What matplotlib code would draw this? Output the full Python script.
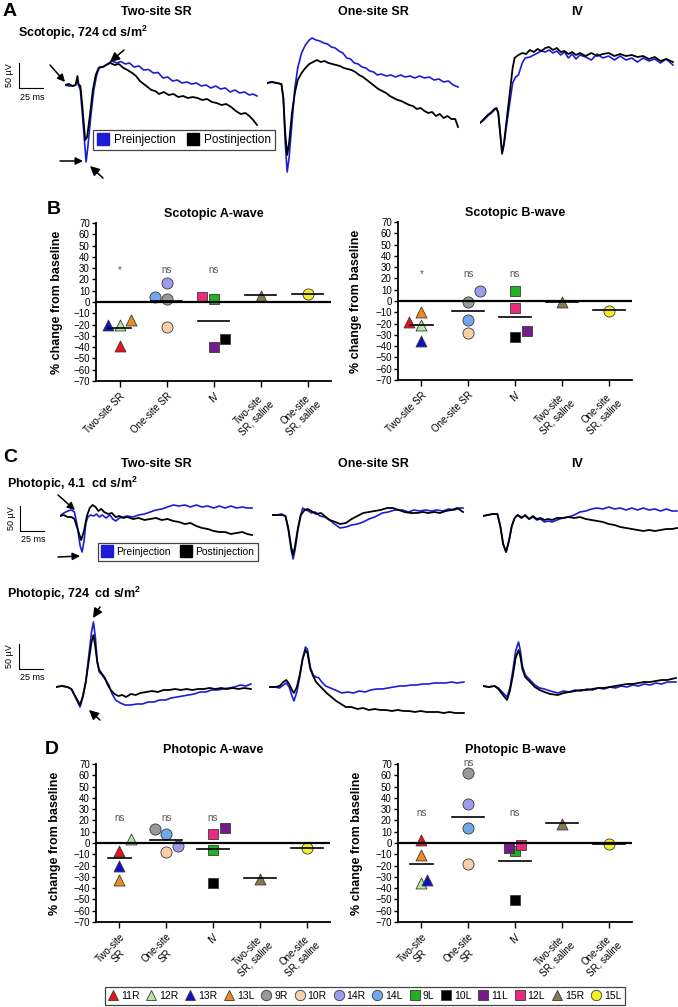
import matplotlib
matplotlib.use('Agg')
import matplotlib.pyplot as plt
from matplotlib.lines import Line2D

plt.rcParams['font.family'] = ['Liberation Sans', 'DejaVu Sans']

W, H = 678, 1007
fig = plt.figure(figsize=(W / 100, H / 100), dpi=100)

# ------------------------------------------------------------------ data
groups_b = ["Two-site SR", "One-site SR", "IV", "Two-site\nSR, saline", "One-site\nSR, saline"]
groups_d = ["Two-site\nSR", "One-site\nSR", "IV", "Two-site\nSR, saline", "One-site\nSR, saline"]

eyes = ['11R', '12R', '13R', '13L', '9R', '10R', '14R', '14L', '9L', '10L', '11L', '12L', '15R', '15L']
eye_group = [0, 0, 0, 0, 1, 1, 1, 1, 2, 2, 2, 2, 3, 4]
eye_marker = ['^', '^', '^', '^', 'o', 'o', 'o', 'o', 's', 's', 's', 's', '^', 'o']
eye_color = ['#e8121a', '#aee8a4', '#1010c8', '#f08a1e', '#999999', '#f8cfa8', '#9c9cec',
             '#70a8ea', '#20b020', '#000000', '#761a8e', '#ea2a7c', '#857a4c', '#f4ee22']

# values (% change from baseline) per eye, same order as `eyes`
scot_a = [-39, -20, -20, -16, 3, -22, 17, 4, 3, -33, -40, 4, 5, 7]
scot_b = [-19, -21, -35, -10, -1, -28, 9, -17, 9, -32, -27, -6, -1, -9]
phot_a = [-7, 3.5, -20, -33, 12, -8, -3, 8, -6, -35, 13, 8, -32, -4.5]
phot_b = [3, -35, -33, -11, 62, -18.5, 35, 13, -7, -50.5, -4.5, -2, 17, -0.5]

scot_a_mean = [-23, 1, -17, 6, 7]
scot_b_mean = [-21, -9, -14, -1, -8]
phot_a_mean = [-13.5, 2.5, -5, -31, -4.5]
phot_b_mean = [-18.5, 23, -16, 18, -1]

scot_a_sig = ['*', 'ns', 'ns', '', '']
scot_b_sig = ['*', 'ns', 'ns', '', '']
phot_a_sig = ['ns', 'ns', 'ns', '', '']
phot_b_sig = ['ns', 'ns', 'ns', '', '']
scot_a_sig_y = [28, 28, 28, 0, 0]
scot_b_sig_y = [24, 24, 24, 0, 0]
phot_a_sig_y = [22, 22, 22, 0, 0]
phot_b_sig_y = [27, 71, 27, 0, 0]

# horizontal jitter (category units) of overlapping points
scot_a_jit = [0, 0, -0.25, 0.25, 0, 0, 0, -0.25, 0, 0.25, 0, -0.25, 0, 0]
scot_b_jit = [-0.27, 0, 0, 0, 0, 0, 0.25, 0, 0, 0, 0.25, 0, 0, 0]
phot_a_jit = [0, 0.25, 0, 0, -0.25, 0, 0.25, 0, 0, 0, 0.25, 0, 0, 0]
phot_b_jit = [0, 0, 0.12, 0, 0, 0, 0, 0, 0, 0, -0.13, 0.13, 0, 0]

yticks = list(range(-70, 71, 10))

# ERG traces: (time ms, amplitude uV) pairs
A_two_pre = [(0, 0), (4, -2), (8, -2), (11, 0), (13, 10), (14, 0), (16, -10), (19, -80), (22, -154), (24, -120),
             (27, -60), (30, -10), (33, 20), (36, 36), (40, 36), (44, 42), (49, 48), (54, 44), (58, 47), (63, 42),
             (67, 44), (72, 36), (77, 38), (82, 30), (87, 31), (92, 24), (97, 25), (102, 14), (107, 16), (112, 8),
             (117, 10), (122, 4), (127, 6), (132, 2), (137, 4), (142, -2), (147, 0), (152, -6), (157, -2), (162, -8),
             (167, -6), (172, -14), (177, -10), (182, -16), (187, -14), (192, -20), (196, -18), (200, -22)]
A_two_post = [(0, 0), (4, 2), (8, -2), (11, 0), (13, 18), (14, 2), (16, -2), (18, -40), (21, -110), (23, -104),
              (26, -60), (29, -10), (32, 20), (35, 34), (39, 36), (43, 40), (47, 44), (52, 40), (56, 42), (61, 34),
              (65, 30), (70, 24), (74, 18), (78, 8), (82, 2), (86, -4), (90, -10), (94, -12), (98, -18), (103, -14),
              (108, -20), (113, -18), (118, -24), (123, -22), (128, -26), (133, -24), (138, -26), (143, -30),
              (148, -28), (153, -34), (158, -36), (163, -40), (168, -38), (173, -44), (178, -52), (183, -58),
              (188, -56), (192, -62), (196, -70), (200, -80)]
A_one_pre = [(0, 0), (5, 2), (10, 0), (15, -2), (17, -30), (19, -120), (21, -178), (23, -150), (26, -80), (29, -10),
             (32, 30), (36, 60), (40, 76), (44, 86), (47, 90), (51, 86), (55, 84), (59, 80), (63, 78), (67, 72),
             (71, 70), (75, 64), (79, 60), (83, 50), (87, 48), (91, 40), (95, 38), (99, 32), (103, 30), (107, 24),
             (111, 22), (115, 16), (119, 18), (124, 14), (129, 16), (134, 12), (139, 16), (144, 12), (149, 14),
             (154, 10), (159, 14), (164, 10), (169, 12), (174, 6), (179, 8), (184, 2), (189, 4), (194, -4), (199, -8)]
A_one_post = [(0, 0), (5, 2), (10, 0), (15, -2), (17, -30), (19, -100), (21, -144), (23, -120), (26, -60), (29, -20),
              (32, 6), (36, 20), (40, 30), (44, 38), (48, 42), (52, 46), (56, 42), (60, 44), (64, 40), (68, 38),
              (72, 36), (76, 34), (80, 30), (84, 28), (88, 26), (92, 22), (96, 16), (100, 12), (104, 6), (108, 0),
              (112, -6), (116, -12), (120, -16), (124, -20), (128, -26), (132, -30), (136, -34), (140, -36),
              (144, -40), (148, -44), (152, -46), (156, -52), (160, -50), (164, -56), (168, -60), (172, -58),
              (176, -66), (180, -62), (184, -70), (188, -66), (192, -72), (196, -72), (199, -88)]
A_iv_pre = [(0, 0), (4, 6), (8, 14), (12, 20), (15, 26), (17, 30), (19, 22), (21, -20), (23, -62), (25, -44), (28, 0),
            (31, 40), (34, 80), (37, 92), (40, 96), (44, 120), (47, 130), (52, 132), (56, 136), (60, 140), (64, 144),
            (68, 142), (72, 146), (76, 140), (80, 144), (84, 136), (88, 142), (92, 130), (96, 138), (100, 128),
            (104, 136), (110, 132), (116, 126), (122, 138), (128, 130), (134, 134), (140, 126), (146, 134),
            (152, 126), (158, 130), (164, 122), (170, 130), (176, 124), (182, 128), (188, 120), (194, 128), (201, 116)]
A_iv_post = [(0, 0), (4, 8), (8, 16), (12, 22), (15, 28), (17, 30), (19, 20), (21, -20), (23, -60), (25, -40), (28, 10),
             (31, 60), (34, 110), (36, 130), (40, 136), (44, 140), (48, 138), (52, 146), (56, 142), (60, 148),
             (64, 144), (68, 150), (72, 152), (76, 146), (80, 150), (84, 142), (88, 144), (92, 138), (96, 142),
             (100, 136), (104, 140), (110, 134), (116, 140), (122, 134), (128, 138), (134, 140), (140, 134),
             (146, 138), (152, 134), (158, 136), (164, 132), (170, 134), (176, 128), (182, 132), (188, 124),
             (194, 128), (201, 122)]

C1_two_pre = [(0, 0), (4, 6), (8, 10), (12, 12), (15, 8), (18, -20), (21, -60), (23, -72), (25, -50), (27, -14),
              (29, -2), (32, 2), (35, 0), (38, 4), (41, -2), (44, 2), (48, -4), (52, 2), (55, -6), (58, -10),
              (62, -4), (66, -2), (70, 0), (76, -2), (82, 2), (88, 4), (94, 8), (100, 12), (106, 14), (112, 18),
              (118, 22), (124, 20), (130, 22), (136, 18), (142, 22), (148, 18), (154, 20), (160, 16), (166, 20),
              (172, 16), (178, 20), (184, 16), (190, 18), (195, 16), (200, 16)]
C1_two_post = [(0, 0), (4, 2), (8, -2), (12, -2), (15, -6), (18, -24), (22, -48), (25, -30), (28, 0), (31, 16),
               (34, 22), (37, 18), (40, 10), (43, 14), (46, 8), (50, 4), (54, 6), (58, -2), (62, 0), (66, -4),
               (70, -2), (76, -6), (82, -4), (88, -8), (94, -6), (100, -4), (106, -8), (112, -6), (118, -10),
               (124, -12), (130, -16), (136, -14), (142, -20), (148, -24), (154, -26), (160, -30), (166, -32),
               (172, -32), (178, -36), (184, -34), (190, -32), (195, -36), (200, -38)]
C1_one_pre = [(0, 0), (5, 0), (10, 2), (14, -2), (17, -30), (20, -70), (22, -88), (24, -70), (27, -30), (30, 0),
              (32, 14), (35, 10), (38, 8), (41, 4), (45, 6), (50, -2), (55, -4), (60, -10), (65, -18), (71, -26),
              (77, -24), (83, -20), (89, -18), (95, -14), (101, -8), (107, -4), (115, 4), (121, 6), (128, 10),
              (136, 10), (142, 6), (148, 10), (154, 8), (160, 10), (166, 8), (172, 10), (178, 8), (184, 12),
              (190, 10), (195, 14), (199, 14)]
C1_one_post = [(0, 0), (5, 0), (10, 0), (14, -2), (17, -26), (20, -64), (22, -80), (24, -62), (27, -26), (30, 0),
               (34, 10), (37, 12), (41, 8), (46, 2), (51, 4), (56, -4), (60, -10), (66, -14), (71, -18), (77, -16),
               (83, -8), (89, -2), (95, 4), (101, 6), (107, 8), (113, 10), (120, 14), (126, 14), (132, 10),
               (138, 6), (145, 4), (151, 4), (157, 6), (163, 4), (169, 6), (175, 4), (181, 8), (187, 10),
               (193, 14), (199, 6)]
C1_iv_pre = [(0, 0), (5, 2), (10, 4), (15, 4), (18, -20), (21, -56), (24, -72), (27, -50), (30, -20), (33, -4),
             (36, 2), (40, -2), (44, 0), (48, -6), (52, -2), (56, -8), (60, -6), (64, -12), (68, -10), (72, -12),
             (77, -8), (83, -4), (89, -2), (95, 2), (101, 8), (107, 10), (113, 14), (119, 16), (125, 14), (131, 18),
             (137, 14), (143, 16), (149, 12), (155, 16), (161, 12), (167, 16), (173, 12), (179, 14), (185, 10),
             (191, 14), (197, 10), (202, 10)]
C1_iv_post = [(0, 0), (5, 2), (10, 4), (15, 4), (18, -20), (21, -56), (24, -72), (27, -50), (30, -20), (33, -4),
              (36, 2), (40, -4), (44, 2), (48, -6), (52, 0), (56, -6), (60, -4), (64, -8), (68, -6), (72, -8),
              (77, -4), (83, -4), (89, -2), (95, -4), (101, -2), (107, -6), (113, -8), (119, -10), (125, -12),
              (131, -16), (137, -18), (143, -22), (149, -24), (155, -26), (161, -28), (167, -30), (173, -28),
              (179, -30), (185, -28), (191, -26), (197, -26), (202, -24)]

C2_two_pre = [(0, 0), (6, 2), (12, 0), (16, -4), (20, -20), (25, -40), (28, -20), (31, 10), (34, 60), (37, 110),
              (39, 130), (41, 100), (43, 50), (45, 30), (48, 24), (51, 16), (55, 4), (58, -12), (62, -26), (67, -32),
              (72, -36), (78, -36), (84, -34), (90, -34), (96, -30), (102, -30), (108, -26), (114, -26), (120, -22),
              (126, -20), (132, -18), (138, -16), (144, -14), (150, -10), (156, -10), (162, -6), (168, -6),
              (174, -4), (180, -2), (186, 0), (192, 4), (198, 2), (203, 6)]
C2_two_post = [(0, 0), (6, 2), (12, 0), (16, -4), (20, -18), (25, -36), (28, -18), (31, 10), (34, 50), (37, 90),
               (39, 104), (41, 80), (43, 50), (45, 34), (48, 26), (51, 18), (54, 4), (57, -6), (61, -14), (65, -18),
               (69, -16), (73, -20), (78, -14), (83, -16), (88, -12), (94, -10), (100, -8), (106, -10), (112, -6),
               (118, -6), (124, -4), (130, -6), (136, -4), (142, -6), (148, -4), (154, -4), (160, -2), (166, -4),
               (172, -2), (178, -4), (184, -2), (190, -4), (196, -2), (203, -4)]
C2_one_pre = [(0, 0), (6, 0), (11, -2), (15, 4), (18, 8), (21, 0), (24, -18), (26, -28), (29, -10), (32, 20),
              (35, 56), (38, 80), (40, 76), (43, 40), (46, 24), (49, 20), (52, 18), (55, 10), (59, 2), (64, -2),
              (69, -6), (76, -12), (82, -10), (88, -12), (94, -8), (100, -10), (106, -6), (112, -4), (118, -4),
              (124, -2), (130, 0), (136, 2), (142, 2), (148, 4), (154, 4), (160, 6), (166, 6), (172, 8), (178, 8),
              (184, 8), (190, 10), (196, 8), (203, 10)]
C2_one_post = [(0, 0), (6, 0), (11, 2), (15, 10), (18, 14), (21, 6), (24, -6), (26, -12), (29, 0), (32, 24),
               (35, 56), (38, 74), (40, 68), (43, 36), (46, 22), (49, 10), (52, 4), (55, -2), (60, -12), (65, -20),
               (70, -28), (75, -34), (80, -40), (86, -40), (92, -44), (98, -42), (104, -46), (110, -44), (116, -46),
               (122, -46), (128, -48), (134, -46), (140, -48), (146, -48), (152, -50), (158, -48), (164, -50),
               (170, -50), (176, -50), (182, -52), (188, -50), (194, -52), (203, -52)]
C2_iv_pre = [(0, 0), (6, -2), (12, 0), (16, -4), (20, -12), (25, -22), (28, -4), (31, 30), (34, 70), (37, 88),
             (39, 70), (41, 40), (44, 22), (47, 16), (50, 10), (54, 2), (59, -4), (64, -6), (70, -10), (78, -14),
             (84, -10), (90, -12), (96, -8), (102, -10), (108, -6), (114, -8), (120, -4), (126, -6), (132, -2),
             (138, -4), (144, 0), (150, -2), (156, 2), (162, 0), (168, 4), (174, 2), (180, 6), (186, 4), (192, 8),
             (201, 8)]
C2_iv_post = [(0, 0), (6, -2), (12, 0), (16, -6), (20, -16), (25, -28), (28, -10), (31, 20), (34, 56), (37, 72),
              (39, 58), (41, 34), (44, 18), (47, 12), (50, 6), (54, -2), (59, -8), (64, -12), (70, -16), (78, -18),
              (84, -14), (90, -12), (96, -10), (102, -8), (108, -8), (114, -6), (120, -4), (126, -4), (132, -2),
              (138, 0), (144, 2), (150, 4), (156, 4), (162, 6), (168, 8), (174, 8), (180, 10), (186, 12), (192, 12),
              (201, 16)]

scale_ms, scale_uv = 25, 50

# ------------------------------------------------------------------ style / helpers
BLUE = '#1c1cd6'
PX_PER_MS = 0.96
PX_PER_UV = 0.5


def px_ax(x, y, w, h, **kw):
    return fig.add_axes([x / W, 1 - (y + h) / H, w / W, h / H], **kw)


def ftext(x, y, s, **kw):
    return fig.text(x / W, 1 - y / H, s, **kw)


def trace_ax(x0, base, pre, post):
    span_w, span_h = 215, 115
    ax = px_ax(x0, base - span_h, span_w, 2 * span_h)
    ax.patch.set_alpha(0)
    ax.set_xlim(0, span_w / PX_PER_MS)
    ax.set_ylim(-span_h / PX_PER_UV, span_h / PX_PER_UV)
    ax.axis('off')
    ax.plot([p[0] for p in pre], [p[1] for p in pre], color=BLUE, lw=1.2, zorder=2)
    ax.plot([p[0] for p in post], [p[1] for p in post], color='black', lw=1.3, zorder=3)
    return ax


def scale_bar(x, y):
    h = scale_uv * PX_PER_UV
    w = scale_ms * PX_PER_MS
    ov.plot([x, x, x + w], [y - h, y, y], color='black', lw=0.8)
    ov.text(x - 9, y - h / 2, '50 µV', rotation=90, ha='center', va='center', fontsize=6.5)
    ov.text(x + w / 2 + 1, y + 9, '25 ms', ha='center', va='center', fontsize=6.5)


def scatter_ax(x, y, w, h, vals, jit, means, sig, sig_y, labels, title, ylabel_x, title_pad):
    ax = px_ax(x, y, w, h)
    ax.set_xlim(-0.5, 4.5)
    ax.set_ylim(-70, 70)
    for sp in ['top', 'right']:
        ax.spines[sp].set_visible(False)
    for sp in ['left', 'bottom']:
        ax.spines[sp].set_linewidth(1.3)
    ax.axhline(0, color='black', lw=1.6, zorder=4)
    for i, e in enumerate(eyes):
        size = 62 if eye_marker[i] == '^' else 64
        if eye_marker[i] == 's':
            size = 58
        ax.scatter(eye_group[i] + jit[i], vals[i], marker=eye_marker[i], s=size, c=eye_color[i],
                   edgecolors='#3a3a3a', linewidths=0.6, zorder=3, clip_on=False)
    for g, m in enumerate(means):
        hw = 0.25 if g == 0 else 0.34
        ax.plot([g - hw, g + hw], [m, m], color='black', lw=1.2, zorder=5)
    for g, s in enumerate(sig):
        if s:
            ax.text(g, sig_y[g], s, ha='center', va='center', fontsize=7, color='#555555', clip_on=False)
    ax.set_yticks(yticks)
    ax.set_yticklabels([str(t).replace('-', '\u2212') for t in yticks], fontsize=7)
    ax.set_xticks(range(5))
    ax.set_xticklabels(labels, rotation=45, ha='right', rotation_mode='anchor', fontsize=7,
                       multialignment='center')
    ax.tick_params(axis='y', length=3, width=1, pad=1.5)
    ax.tick_params(axis='x', length=4, width=1, pad=3)
    ax.set_title(title, fontsize=9, fontweight='bold', pad=title_pad)
    ftext(ylabel_x, y + h / 2, '% change from baseline', rotation=90, ha='center', va='center',
          fontsize=9, fontweight='bold')
    return ax


ov = fig.add_axes([0, 0, 1, 1], zorder=10)
ov.set_xlim(0, W)
ov.set_ylim(H, 0)
ov.axis('off')
ov.patch.set_alpha(0)

# ------------------------------------------------------------------ panel A
ftext(3, 11, 'A', fontsize=14, fontweight='bold', va='center')
ftext(156, 12, 'Two-site SR', fontsize=9, fontweight='bold', ha='center', va='center')
ftext(373, 12, 'One-site SR', fontsize=9, fontweight='bold', ha='center', va='center')
ftext(577, 12, 'IV', fontsize=9, fontweight='bold', ha='center', va='center')
ftext(18, 33, 'Scotopic, 724 cd s/m$^\\mathregular{2}$', fontsize=9, fontweight='bold', va='center')

trace_ax(65, 85, A_two_pre, A_two_post)
trace_ax(267, 83, A_one_pre, A_one_post)
trace_ax(480, 123, A_iv_pre, A_iv_post)
scale_bar(19, 88)

arrow_kw = dict(arrowstyle='-|>', color='black', lw=1.1, mutation_scale=11, shrinkA=0, shrinkB=0)
ov.annotate('', xy=(65, 82), xytext=(50, 65), arrowprops=arrow_kw)
ov.annotate('', xy=(110, 62), xytext=(124, 50), arrowprops=dict(arrow_kw, mutation_scale=14))
ov.annotate('', xy=(83, 161), xytext=(60, 161), arrowprops=arrow_kw)
ov.annotate('', xy=(90, 166), xytext=(103, 178), arrowprops=dict(arrow_kw, mutation_scale=14))

h_pre = Line2D([], [], ls='none', marker='s', markersize=8, markerfacecolor=BLUE, markeredgecolor=BLUE)
h_post = Line2D([], [], ls='none', marker='s', markersize=8, markerfacecolor='black', markeredgecolor='black')
legA = fig.legend([h_pre, h_post], ['Preinjection', 'Postinjection'], loc='center',
                  bbox_to_anchor=(184 / W, 1 - 140 / H), ncol=2, fontsize=8.5, frameon=True, fancybox=False,
                  edgecolor='#444444', handlelength=1.0, handletextpad=0.4, columnspacing=1.0,
                  borderpad=0.35, framealpha=1)
legA.get_frame().set_linewidth(0.9)

# ------------------------------------------------------------------ panel B
ftext(47, 209, 'B', fontsize=14, fontweight='bold', va='center')
scatter_ax(96, 223, 235, 158, scot_a, scot_a_jit, scot_a_mean, scot_a_sig, scot_a_sig_y, groups_b,
           'Scotopic A-wave', 57, 4)
scatter_ax(398, 222, 234, 158, scot_b, scot_b_jit, scot_b_mean, scot_b_sig, scot_b_sig_y, groups_b,
           'Scotopic B-wave', 356, 4)

# ------------------------------------------------------------------ panel C
ftext(3, 458, 'C', fontsize=14, fontweight='bold', va='center')
ftext(156, 464, 'Two-site SR', fontsize=9, fontweight='bold', ha='center', va='center')
ftext(373, 464, 'One-site SR', fontsize=9, fontweight='bold', ha='center', va='center')
ftext(577, 464, 'IV', fontsize=9, fontweight='bold', ha='center', va='center')
ftext(7, 484, 'Photopic, 4.1  cd s/m$^\\mathregular{2}$', fontsize=9, fontweight='bold', va='center')

trace_ax(60, 516, C1_two_pre, C1_two_post)
trace_ax(272, 515, C1_one_pre, C1_one_post)
trace_ax(483, 516, C1_iv_pre, C1_iv_post)
scale_bar(20, 531)

ov.annotate('', xy=(75, 510), xytext=(58, 495), arrowprops=arrow_kw)
ov.annotate('', xy=(80, 556), xytext=(58, 557), arrowprops=arrow_kw)

legC = fig.legend([h_pre, h_post], ['Preinjection', 'Postinjection'], loc='center',
                  bbox_to_anchor=(178 / W, 1 - 552 / H), ncol=2, fontsize=7.5, frameon=True, fancybox=False,
                  edgecolor='#444444', handlelength=1.0, handletextpad=0.4, columnspacing=1.0,
                  borderpad=0.35, framealpha=1)
legC.get_frame().set_linewidth(0.9)

ftext(7, 594, 'Photopic, 724  cd s/m$^\\mathregular{2}$', fontsize=9, fontweight='bold', va='center')
trace_ax(56, 687, C2_two_pre, C2_two_post)
trace_ax(269, 687, C2_one_pre, C2_one_post)
trace_ax(483, 686, C2_iv_pre, C2_iv_post)
scale_bar(19, 669)

ov.annotate('', xy=(93, 618), xytext=(100, 607), arrowprops=dict(arrow_kw, mutation_scale=14))
ov.annotate('', xy=(89, 710), xytext=(100, 720), arrowprops=dict(arrow_kw, mutation_scale=14))

# ------------------------------------------------------------------ panel D
ftext(45, 749, 'D', fontsize=14, fontweight='bold', va='center')
scatter_ax(96, 764, 234, 158, phot_a, phot_a_jit, phot_a_mean, phot_a_sig, phot_a_sig_y, groups_d,
           'Photopic A-wave', 55, 8)
scatter_ax(398, 764, 234, 158, phot_b, phot_b_jit, phot_b_mean, phot_b_sig, phot_b_sig_y, groups_d,
           'Photopic B-wave', 357, 8)

# ------------------------------------------------------------------ eye legend
handles = [Line2D([], [], ls='none', marker=eye_marker[i], markersize=7.5, markerfacecolor=eye_color[i],
                  markeredgecolor='#3a3a3a', markeredgewidth=0.6) for i in range(len(eyes))]
legE = fig.legend(handles, eyes, loc='center', bbox_to_anchor=(365 / W, 1 - 996 / H), ncol=len(eyes),
                  fontsize=7.5, frameon=True, fancybox=False, edgecolor='#444444', handlelength=0.8,
                  handletextpad=0.35, columnspacing=0.75, borderpad=0.4, framealpha=1)
legE.get_frame().set_linewidth(0.9)

fig.savefig('out.png', dpi=100)
